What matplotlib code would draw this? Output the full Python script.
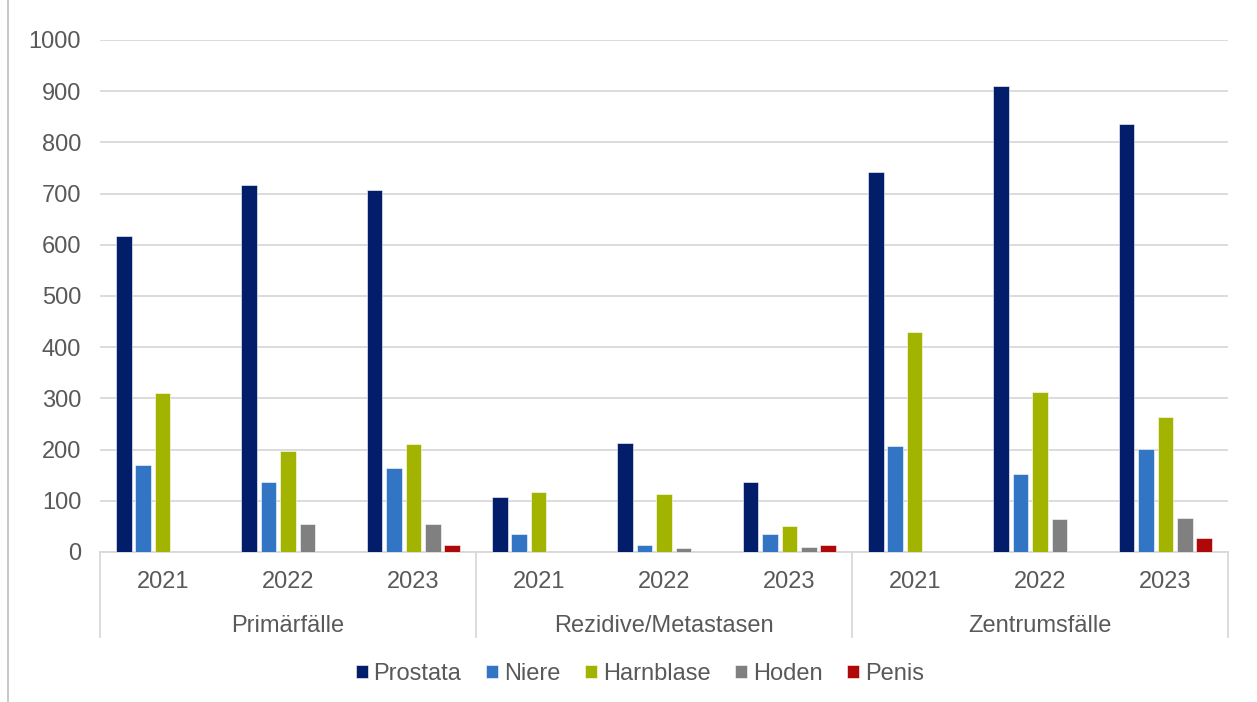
import matplotlib.pyplot as plt
import matplotlib.transforms as mtransforms
from matplotlib.lines import Line2D
import numpy as np

plt.rcParams['font.family'] = ['Liberation Sans', 'DejaVu Sans']

groups = ["Primärfälle", "Rezidive/Metastasen", "Zentrumsfälle"]
years = ["2021", "2022", "2023"]
series = ["Prostata", "Niere", "Harnblase", "Hoden", "Penis"]
colors = ["#021E6B", "#3375C5", "#A3B400", "#808080", "#AF0808"]

prostata = [618, 717, 707, 107, 213, 137, 742, 911, 835]
niere = [169, 137, 165, 36, 13, 36, 208, 152, 202]
harnblase = [310, 197, 210, 117, 113, 51, 429, 312, 263]
hoden = [0, 54, 54, 0, 7, 10, 0, 64, 67]
penis = [0, 0, 14, 0, 0, 14, 0, 0, 28]

values = [prostata, niere, harnblase, hoden, penis]
text_color = "#595959"
line_color = "#D9D9D9"
axis_fs = 17

fig = plt.figure(figsize=(12.57, 7.02), dpi=100)
ax = fig.add_axes([100 / 1257, 1 - 552 / 702, 1128 / 1257, 512 / 702])

x = np.arange(len(prostata))
step = 0.155
width = 0.124
for i, (name, vals) in enumerate(zip(series, values)):
    ax.bar(x + (i - 2) * step, vals, width, color=colors[i], label=name,
           edgecolor="white", linewidth=0.4, zorder=3)

ax.set_xlim(-0.5, len(x) - 0.5)
ax.set_ylim(0, 1000)
ax.set_yticks(range(0, 1001, 100))
ax.tick_params(axis='y', length=0, pad=13.5, labelsize=axis_fs, labelcolor=text_color)
ax.set_xticks([])
ax.grid(axis='y', color=line_color, linewidth=1.3, zorder=0)
for side in ["top", "right", "left"]:
    ax.spines[side].set_visible(False)
ax.spines["bottom"].set_color(line_color)
ax.spines["bottom"].set_linewidth(1.3)

# multi-level category axis
trans = mtransforms.blended_transform_factory(ax.transData, ax.transAxes)
for b in [-0.5, 2.5, 5.5, 8.5]:
    ax.plot([b, b], [0, -0.166], transform=trans, color=line_color,
            linewidth=1.3, clip_on=False)
for k in range(len(x)):
    ax.text(x[k], -0.058, years[k % 3], transform=trans, ha='center', va='center',
            fontsize=axis_fs, color=text_color)
for g, name in enumerate(groups):
    ax.text(g * 3 + 1, -0.144, name, transform=trans, ha='center', va='center',
            fontsize=axis_fs, color=text_color)

# outer chart border on the left
fig.add_artist(Line2D([8 / 1257, 8 / 1257], [0, 1], transform=fig.transFigure,
                      color="#BFBFBF", linewidth=1.2))

fig.legend(loc='center', bbox_to_anchor=(0.509, 1 - 674 / 702), ncol=5,
           frameon=False, fontsize=axis_fs, labelcolor=text_color,
           handlelength=0.5, handleheight=0.5, handletextpad=0.25,
           columnspacing=1.05)

plt.savefig("out.png", dpi=100)
